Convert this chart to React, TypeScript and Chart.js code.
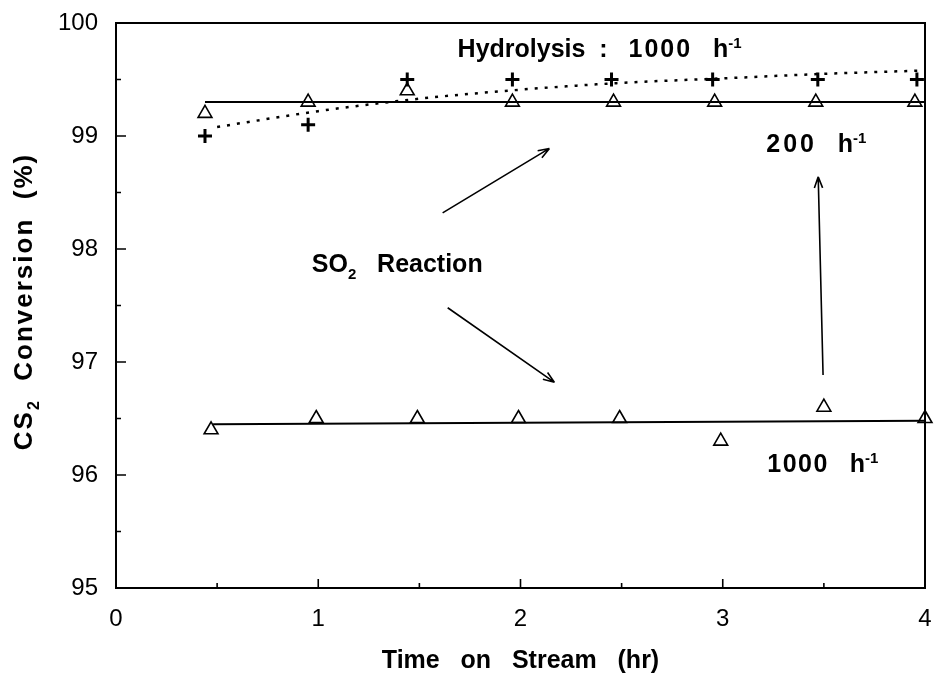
import React, { useEffect, useRef } from "react";
import { Chart, registerables } from "chart.js";

Chart.register(...registerables);

// ---------- data ----------
const hydroTime = [0.44, 0.95, 1.44, 1.96, 2.45, 2.95, 3.47, 3.96];
const hydroConv = [99.0, 99.1, 99.5, 99.5, 99.5, 99.5, 99.5, 99.5];
const hydroFitTime = [0.5, 1.0, 1.5, 2.0, 2.5, 3.0, 3.5, 4.0];
const hydroFitConv = [99.08, 99.22, 99.33, 99.41, 99.47, 99.51, 99.55, 99.58];

const so2LowSvTime = [0.44, 0.95, 1.44, 1.96, 2.46, 2.96, 3.46, 3.95];
const so2LowSvConv = [99.2, 99.3, 99.4, 99.3, 99.3, 99.3, 99.3, 99.3];
const so2LowSvFitTime = [0.44, 4.0];
const so2LowSvFitConv = [99.3, 99.3];

const so2HighSvTime = [0.47, 0.99, 1.49, 1.99, 2.49, 2.99, 3.5, 4.0];
const so2HighSvConv = [96.4, 96.5, 96.5, 96.5, 96.5, 96.3, 96.6, 96.5];
const so2HighSvFitTime = [0.48, 4.0];
const so2HighSvFitConv = [96.45, 96.48];

const xTickValues = [0, 1, 2, 3, 4];
const yTickValues = [95, 96, 97, 98, 99, 100];
const xMinorTicks = [0.5, 1.5, 2.5, 3.5];
const yMinorTicks = [95.5, 96.5, 97.5, 98.5, 99.5];

const xTitle = "Time   on   Stream   (hr)";

type Seg = { t: string; sub?: boolean; sup?: boolean; ls?: number };

const annotations: { x: number; y: number; segs: Seg[] }[] = [
  {
    x: 1.689,
    y: 99.7,
    segs: [{ t: "Hydrolysis  :   " }, { t: "1000", ls: 2 }, { t: "   h" }, { t: "-1", sup: true }],
  },
  { x: 3.215, y: 98.86, segs: [{ t: "200", ls: 3 }, { t: "   h" }, { t: "-1", sup: true }] },
  { x: 0.968, y: 97.8, segs: [{ t: "SO" }, { t: "2", sub: true }, { t: "   Reaction" }] },
  { x: 3.22, y: 96.03, segs: [{ t: "1000", ls: 1.5 }, { t: "   h" }, { t: "-1", sup: true }] },
];

const arrows = [
  { x1: 1.615, y1: 98.32, x2: 2.143, y2: 98.89 },
  { x1: 1.64, y1: 97.48, x2: 2.168, y2: 96.82 },
  { x1: 3.496, y1: 96.885, x2: 3.472, y2: 98.64 },
];

const yTitleSegs: Seg[] = [{ t: "CS" }, { t: "2", sub: true }, { t: "  Conversion  (%)" }];

// ---------- helpers ----------
const FAMILY = "'Liberation Sans', Arial, sans-serif";

function zip(xs: number[], ys: number[]) {
  return xs.map((x, i) => ({ x, y: ys[i] }));
}

function segFont(s: Seg, size: number) {
  const sz = s.sub || s.sup ? Math.round(size * 0.6) : size;
  return `bold ${sz}px ${FAMILY}`;
}

function drawRich(ctx: CanvasRenderingContext2D, x: number, y: number, segs: Seg[], size: number, baseLs = 0, centered = false) {
  const anyCtx = ctx as any;
  const widths = segs.map((s) => {
    ctx.font = segFont(s, size);
    anyCtx.letterSpacing = `${s.ls ?? baseLs}px`;
    return ctx.measureText(s.t).width;
  });
  const total = widths.reduce((a, b) => a + b, 0);
  let cx = centered ? x - total / 2 : x;
  ctx.textBaseline = "alphabetic";
  ctx.textAlign = "left";
  segs.forEach((s, i) => {
    ctx.font = segFont(s, size);
    anyCtx.letterSpacing = `${s.ls ?? baseLs}px`;
    let dy = 0;
    if (s.sub) dy = size * 0.28;
    if (s.sup) dy = -size * 0.36;
    ctx.fillText(s.t, cx, y + dy);
    cx += widths[i];
  });
  anyCtx.letterSpacing = "0px";
}

function drawArrow(ctx: CanvasRenderingContext2D, x1: number, y1: number, x2: number, y2: number) {
  ctx.beginPath();
  ctx.moveTo(x1, y1);
  ctx.lineTo(x2, y2);
  const ang = Math.atan2(y2 - y1, x2 - x1);
  const L = 12;
  const spread = 0.35;
  ctx.moveTo(x2, y2);
  ctx.lineTo(x2 - L * Math.cos(ang - spread), y2 - L * Math.sin(ang - spread));
  ctx.moveTo(x2, y2);
  ctx.lineTo(x2 - L * Math.cos(ang + spread), y2 - L * Math.sin(ang + spread));
  ctx.stroke();
}

const overlayPlugin = {
  id: "overlay",
  afterDraw(chart: any) {
    const ctx: CanvasRenderingContext2D = chart.ctx;
    const { left, right, top, bottom } = chart.chartArea;
    const xs = chart.scales.x;
    const ys = chart.scales.y;
    ctx.save();
    ctx.strokeStyle = "#000";
    ctx.fillStyle = "#000";
    // frame
    ctx.lineWidth = 2;
    ctx.strokeRect(left, top, right - left, bottom - top);
    // inward ticks
    ctx.lineWidth = 1.6;
    ctx.beginPath();
    yTickValues.forEach((v) => {
      const p = ys.getPixelForValue(v);
      ctx.moveTo(left, p);
      ctx.lineTo(left + 10, p);
    });
    yMinorTicks.forEach((v) => {
      const p = ys.getPixelForValue(v);
      ctx.moveTo(left, p);
      ctx.lineTo(left + 5, p);
    });
    xTickValues.forEach((v) => {
      const p = xs.getPixelForValue(v);
      ctx.moveTo(p, bottom);
      ctx.lineTo(p, bottom - 9);
    });
    xMinorTicks.forEach((v) => {
      const p = xs.getPixelForValue(v);
      ctx.moveTo(p, bottom);
      ctx.lineTo(p, bottom - 5);
    });
    ctx.stroke();
    // arrows
    ctx.lineWidth = 1.6;
    arrows.forEach((a) => {
      drawArrow(
        ctx,
        xs.getPixelForValue(a.x1),
        ys.getPixelForValue(a.y1),
        xs.getPixelForValue(a.x2),
        ys.getPixelForValue(a.y2)
      );
    });
    // annotations
    annotations.forEach((a) => {
      drawRich(ctx, xs.getPixelForValue(a.x), ys.getPixelForValue(a.y), a.segs, 25);
    });
    // y title (rotated)
    ctx.save();
    ctx.translate(32, (top + bottom) / 2 - 4);
    ctx.rotate(-Math.PI / 2);
    drawRich(ctx, 0, 0, yTitleSegs, 26, 2, true);
    ctx.restore();
    ctx.restore();
  },
};

export default function App() {
  const ref = useRef<HTMLCanvasElement>(null);
  useEffect(() => {
    document.body.style.margin = "0";
    const canvas = ref.current!;
    const tickFont = { family: FAMILY, size: 24, weight: "normal" as const };
    const chart = new Chart(canvas, {
      type: "scatter",
      data: {
        datasets: [
          {
            label: "Hydrolysis fit",
            data: zip(hydroFitTime, hydroFitConv),
            showLine: true,
            borderColor: "#000",
            borderWidth: 2.5,
            borderDash: [3, 7],
            pointRadius: 0,
            cubicInterpolationMode: "monotone",
            clip: false,
          } as any,
          {
            label: "SO2 200 fit",
            data: zip(so2LowSvFitTime, so2LowSvFitConv),
            showLine: true,
            borderColor: "#000",
            borderWidth: 2,
            pointRadius: 0,
            clip: false,
          },
          {
            label: "SO2 1000 fit",
            data: zip(so2HighSvFitTime, so2HighSvFitConv),
            showLine: true,
            borderColor: "#000",
            borderWidth: 2,
            pointRadius: 0,
            clip: false,
          },
          {
            label: "Hydrolysis 1000 h-1",
            data: zip(hydroTime, hydroConv),
            pointStyle: "cross",
            pointRadius: 7,
            borderColor: "#000",
            pointBorderWidth: 3,
            clip: false,
          } as any,
          {
            label: "SO2 200 h-1",
            data: zip(so2LowSvTime, so2LowSvConv),
            pointStyle: "triangle",
            pointRadius: 8,
            backgroundColor: "#fff",
            borderColor: "#000",
            pointBorderWidth: 1.6,
            clip: false,
          } as any,
          {
            label: "SO2 1000 h-1",
            data: zip(so2HighSvTime, so2HighSvConv),
            pointStyle: "triangle",
            pointRadius: 8,
            backgroundColor: "#fff",
            borderColor: "#000",
            pointBorderWidth: 1.6,
            clip: false,
          } as any,
        ],
      },
      options: {
        animation: false,
        responsive: false,
        devicePixelRatio: 1,
        layout: { padding: { top: 23, right: 9, left: 0, bottom: 0 } },
        plugins: { legend: { display: false }, tooltip: { enabled: false } },
        scales: {
          x: {
            type: "linear",
            min: 0,
            max: 4,
            grid: { display: false, drawTicks: false },
            border: { display: false },
            afterBuildTicks: (s: any) => {
              s.ticks = xTickValues.map((v) => ({ value: v }));
            },
            afterFit: (s: any) => {
              s.height = 85;
              s.paddingLeft = 0;
              s.paddingRight = 0;
            },
            ticks: { font: tickFont, color: "#000", padding: 17, maxRotation: 0 },
            title: {
              display: true,
              text: xTitle,
              color: "#000",
              font: { family: FAMILY, size: 25, weight: "bold", lineHeight: 0.92 },
              padding: 0,
            },
          },
          y: {
            type: "linear",
            min: 95,
            max: 100,
            grid: { display: false, drawTicks: false },
            border: { display: false },
            afterBuildTicks: (s: any) => {
              s.ticks = yTickValues.map((v) => ({ value: v }));
            },
            afterFit: (s: any) => {
              s.width = 116;
              s.paddingTop = 0;
              s.paddingBottom = 0;
            },
            ticks: { font: tickFont, color: "#000", padding: 18 },
          },
        },
      } as any,
      plugins: [overlayPlugin],
    });
    return () => chart.destroy();
  }, []);
  return (
    <div style={{ width: 935, height: 673, background: "#fff" }}>
      <canvas ref={ref} width={935} height={673} style={{ display: "block" }} />
    </div>
  );
}
